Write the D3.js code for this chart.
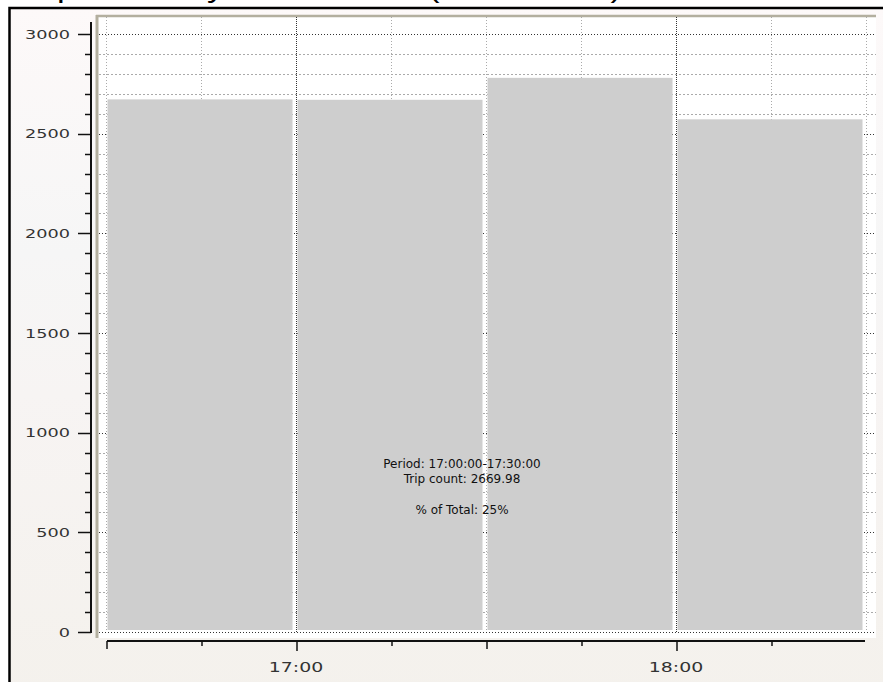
<!DOCTYPE html>
<html><head><meta charset="utf-8">
<script src="https://cdn.jsdelivr.net/npm/d3@7"></script>
<style>html,body{margin:0;padding:0;background:#fff;overflow:hidden}</style>
</head><body>
<svg id="chart" width="883" height="682"></svg>
<script>
// ---- data ----
const titleText = "Trip Count by Time Period (Percentiles)";
const periodStarts = ["16:30", "17:00", "17:30", "18:00"];
const periodEnds   = ["17:00", "17:30", "18:00", "18:30"];
const tripCounts   = [2672, 2669.98, 2780, 2572];
const yTickValues  = [0, 500, 1000, 1500, 2000, 2500, 3000];
const xTickLabels  = ["17:00", "18:00"];
const tipLines     = ["Period: 17:00:00-17:30:00", "Trip count: 2669.98", "", "% of Total: 25%"];

const parseT = s => { const [h, m] = s.split(":").map(Number); return new Date(2020, 0, 1, h, m); };

const svg = d3.select("#chart");
const defs = svg.append("defs");
const grad = defs.append("linearGradient").attr("id", "bg").attr("x1", 0).attr("y1", 0).attr("x2", 0).attr("y2", 1);
grad.append("stop").attr("offset", "0%").attr("stop-color", "#fdf9f9");
grad.append("stop").attr("offset", "35%").attr("stop-color", "#f6f6f6");
grad.append("stop").attr("offset", "55%").attr("stop-color", "#f7f4f3");
grad.append("stop").attr("offset", "100%").attr("stop-color", "#f4f1ec");

// background / frame
svg.append("rect").attr("x", 0).attr("y", 0).attr("width", 883).attr("height", 682).attr("fill", "#fff");
svg.append("text").attr("x", 18).attr("y", -3)
  .attr("font-family", "Liberation Sans, Arial, sans-serif").attr("font-size", 27)
  .attr("textLength", 604).attr("lengthAdjust", "spacingAndGlyphs")
  .attr("fill", "#000").text(titleText);
svg.append("rect").attr("x", 9.5).attr("y", 8).attr("width", 900).attr("height", 700)
  .attr("fill", "url(#bg)").attr("stroke", "#000").attr("stroke-width", 2.5);

// scales
const x = d3.scaleTime().domain([parseT("16:30"), parseT("18:30")]).range([107, 867]);
const y = d3.scaleLinear().domain([0, 3000]).range([632, 34]);

// plot area
const plotL = 97, plotT = 16, plotR = 876, plotB = 638;
svg.append("rect").attr("x", plotL).attr("y", plotT).attr("width", plotR - plotL).attr("height", plotB - plotT).attr("fill", "#fff");
svg.append("line").attr("x1", plotL).attr("x2", plotL).attr("y1", plotT - 1).attr("y2", plotB)
  .attr("stroke", "#b3af9f").attr("stroke-width", 3);
svg.append("line").attr("x1", plotL - 1).attr("x2", plotR).attr("y1", plotT).attr("y2", plotT)
  .attr("stroke", "#b3af9f").attr("stroke-width", 2.5);

// gridlines
const g = svg.append("g");
const minorY = d3.range(0, 3001, 100);
g.selectAll("line.hy").data(minorY).join("line")
  .attr("x1", plotL + 2).attr("x2", plotR)
  .attr("y1", d => Math.round(y(d)) + 0.5).attr("y2", d => Math.round(y(d)) + 0.5)
  .attr("stroke", d => d % 500 === 0 ? "#333" : "#aaa")
  .attr("stroke-width", 1).attr("stroke-dasharray", d => d % 500 === 0 ? "1,2" : "2,2");
const xGrid = d3.timeMinute.every(15).range(parseT("16:30"), new Date(parseT("18:30").getTime() + 1));
g.selectAll("line.vx").data(xGrid).join("line")
  .attr("x1", d => Math.round(x(d)) - 0.5).attr("x2", d => Math.round(x(d)) - 0.5)
  .attr("y1", plotT + 1).attr("y2", y(0))
  .attr("stroke", d => d.getMinutes() === 0 ? "#333" : "#aaa")
  .attr("stroke-width", 1).attr("stroke-dasharray", d => d.getMinutes() === 0 ? "1,1" : "1,2");

// bars
svg.append("g").selectAll("rect").data(tripCounts).join("rect")
  .attr("x", (d, i) => x(parseT(periodStarts[i])) + 0.5)
  .attr("width", (d, i) => x(parseT(periodEnds[i])) - x(parseT(periodStarts[i])) - 5)
  .attr("y", d => y(d))
  .attr("height", d => y(0) - y(d) - 2)
  .attr("fill", "#cecece");

// y axis
const ya = svg.append("g").attr("transform", "translate(91,0)");
ya.append("line").attr("x1", 0).attr("x2", 0).attr("y1", 22).attr("y2", y(0) + 1).attr("stroke", "#111").attr("stroke-width", 2);
ya.selectAll("line.t").data(minorY).join("line")
  .attr("x1", d => d % 500 === 0 ? -13 : -6).attr("x2", 0)
  .attr("y1", d => Math.round(y(d)) + 0.5).attr("y2", d => Math.round(y(d)) + 0.5)
  .attr("stroke", "#111").attr("stroke-width", 1.5);
ya.selectAll("text").data(yTickValues).join("text")
  .attr("transform", d => `translate(-21,${y(d)}) scale(1.36,1)`)
  .attr("dy", "0.36em").attr("text-anchor", "end")
  .attr("font-family", "DejaVu Sans, Verdana, sans-serif").attr("font-size", 13).attr("fill", "#333")
  .text(d => d);

// x axis
const xa = svg.append("g").attr("transform", "translate(0,641)");
xa.append("line").attr("x1", x.range()[0]).attr("x2", x.range()[1] - 2).attr("y1", 0).attr("y2", 0).attr("stroke", "#111").attr("stroke-width", 2);
const xTicks = xGrid.filter(d => d < parseT("18:30"));
xa.selectAll("line.t").data(xTicks).join("line")
  .attr("x1", d => Math.round(x(d))).attr("x2", d => Math.round(x(d)))
  .attr("y1", 0).attr("y2", d => d.getMinutes() === 0 ? 10 : (d.getMinutes() === 30 ? 8 : 5))
  .attr("stroke", "#111").attr("stroke-width", 1.5);
xa.selectAll("text").data(xTickLabels).join("text")
  .attr("transform", d => `translate(${x(parseT(d)) - 1},31) scale(1.4,1)`)
  .attr("text-anchor", "middle")
  .attr("font-family", "DejaVu Sans, Verdana, sans-serif").attr("font-size", 13.5).attr("fill", "#333")
  .text(d => d);

// hover label
const tipX = x(parseT("17:30")) - 25, tipY = y(0) - 164;
svg.append("g").selectAll("text").data(tipLines).join("text")
  .attr("x", tipX).attr("y", (d, i) => tipY + i * 15.3)
  .attr("text-anchor", "middle")
  .attr("font-family", "DejaVu Sans, Tahoma, sans-serif").attr("font-size", 12).attr("fill", "#111")
  .text(d => d);
</script>
</body></html>
